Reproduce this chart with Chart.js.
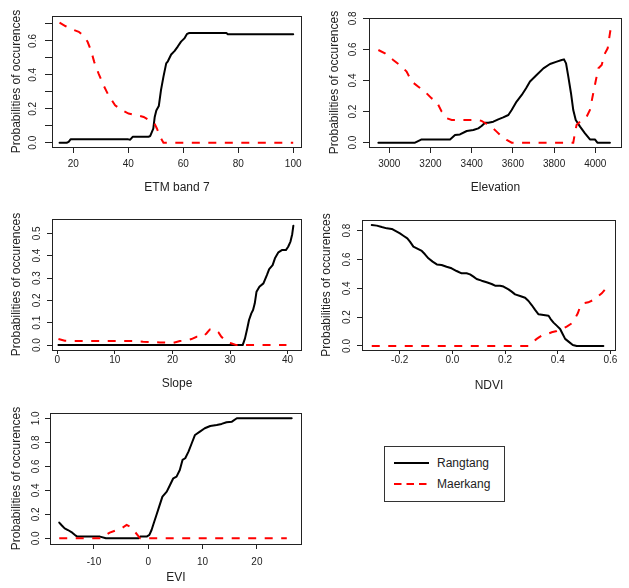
<!DOCTYPE html>
<html><head><meta charset="utf-8">
<script src="https://cdn.jsdelivr.net/npm/chart.js@4.4.1/dist/chart.umd.min.js"></script>
<style>
html,body{margin:0;padding:0;background:#fff;}
body{width:629px;height:588px;position:relative;overflow:hidden;font-family:"Liberation Sans",Arial,Helvetica,sans-serif;}
canvas.panel{position:absolute;}
#legend{position:absolute;left:384px;top:446px;width:121px;height:56px;border:1px solid #333;box-sizing:border-box;}
#legend .row{position:absolute;left:9px;height:20px;display:flex;align-items:center;font-size:12px;color:#222;}
#legend svg{display:block;margin-right:8px;}
</style></head><body>
<canvas class="panel" id="c1"></canvas>
<canvas class="panel" id="c2"></canvas>
<canvas class="panel" id="c3"></canvas>
<canvas class="panel" id="c4"></canvas>
<canvas class="panel" id="c5"></canvas>
<div id="legend">
  <div class="row" style="top:6px"><svg width="35" height="4"><line x1="0" y1="2" x2="35" y2="2" stroke="#000" stroke-width="2"/></svg><span>Rangtang</span></div>
  <div class="row" style="top:27px"><svg width="35" height="4"><line x1="0" y1="2" x2="35" y2="2" stroke="#ff0000" stroke-width="2" stroke-dasharray="7.5 5"/></svg><span>Maerkang</span></div>
</div>
<script>
// ---------- series names ----------
const seriesNames = ['Rangtang', 'Maerkang'];
const axisTitleY = 'Probabilities of occurences';

// ---------- ETM band 7 ----------
const etmRangtang = [[15,0],[17.6,0],[18.3,0.005],[19,0.02],[40,0.02],[40.7,0.018],[41.6,0.035],[47.3,0.035],[48,0.04],[49.1,0.084],[49.6,0.15],[50.2,0.19],[51.1,0.216],[51.9,0.31],[52.8,0.39],[53.8,0.468],[54.4,0.48],[55.6,0.52],[56.8,0.54],[58,0.567],[59.2,0.596],[60.4,0.615],[61.4,0.642],[62.2,0.647],[75.7,0.647],[76.2,0.64],[100,0.64]];
const etmMaerkang = [[15,0.708],[17.1,0.688],[19.6,0.668],[22,0.654],[23.8,0.629],[25.2,0.595],[26.4,0.546],[27.6,0.477],[29.2,0.408],[31,0.339],[32.8,0.28],[35.2,0.221],[37.7,0.192],[40.1,0.172],[43.1,0.162],[45.6,0.152],[48.6,0.123],[49.5,0.115],[50.4,0.084],[51.6,0.035],[52.8,0],[100,0]];
const etmXTicks = [20,40,60,80,100];
const etmYTicks = [0,0.1,0.2,0.3,0.4,0.5,0.6,0.7];
const etmYLabels = [0,0.2,0.4,0.6];

// ---------- Elevation ----------
const elevRangtang = [[2947,0],[3125,0],[3157,0.021],[3295,0.021],[3319,0.049],[3343,0.053],[3376,0.075],[3408,0.081],[3432,0.092],[3448,0.107],[3465,0.128],[3481,0.128],[3505,0.135],[3529,0.15],[3553,0.163],[3578,0.178],[3594,0.21],[3618,0.264],[3643,0.307],[3664,0.35],[3683,0.393],[3715,0.435],[3748,0.478],[3780,0.506],[3813,0.521],[3837,0.532],[3848,0.536],[3858,0.51],[3869,0.425],[3882,0.318],[3893,0.21],[3905,0.146],[3926,0.103],[3950,0.06],[3974,0.021],[3998,0.021],[4010,0],[4071,0]];
const elevMaerkang = [[2947,0.596],[2979,0.575],[3019,0.532],[3060,0.49],[3084,0.457],[3109,0.393],[3141,0.36],[3173,0.328],[3206,0.285],[3230,0.264],[3254,0.2],[3279,0.157],[3303,0.146],[3424,0.146],[3448,0.14],[3473,0.12],[3497,0.1],[3521,0.071],[3546,0.039],[3570,0.017],[3594,0],[3893,0],[3901,0.06],[3909,0.114],[3934,0.146],[3958,0.167],[3974,0.21],[3990,0.318],[4003,0.403],[4015,0.478],[4031,0.5],[4047,0.575],[4060,0.607],[4071,0.703],[4079,0.767]];
const elevXTicks = [3000,3200,3400,3600,3800,4000];
const elevYTicks = [0,0.2,0.4,0.6,0.8];
const elevYLabels = [0,0.2,0.4,0.6,0.8];

// ---------- Slope ----------
const slopeRangtang = [[0.2,0],[32.2,0],[32.6,0.03],[33,0.075],[33.3,0.112],[33.7,0.142],[34,0.157],[34.3,0.187],[34.6,0.239],[35.1,0.261],[35.8,0.276],[36.4,0.313],[36.8,0.34],[37.4,0.358],[37.8,0.388],[38.4,0.415],[39,0.425],[39.7,0.425],[40.1,0.44],[40.5,0.463],[40.8,0.496],[41,0.534]];
const slopeMaerkang = [[0.2,0.027],[1.3,0.019],[2.8,0.018],[13.2,0.018],[14.9,0.015],[17.8,0.012],[20.1,0.01],[21.3,0.018],[22.5,0.022],[23.3,0.027],[24.2,0.037],[25.3,0.037],[25.9,0.052],[26.5,0.07],[27.4,0.07],[28,0.057],[28.5,0.037],[29.4,0.015],[30.3,0.007],[31.1,0],[39.8,0]];
const slopeXTicks = [0,10,20,30,40];
const slopeYTicks = [0,0.1,0.2,0.3,0.4,0.5];
const slopeYLabels = [0,0.1,0.2,0.3,0.4,0.5];

// ---------- NDVI ----------
const ndviRangtang = [[-0.306,0.839],[-0.287,0.835],[-0.268,0.825],[-0.249,0.816],[-0.23,0.812],[-0.211,0.793],[-0.199,0.781],[-0.186,0.765],[-0.171,0.747],[-0.161,0.724],[-0.148,0.689],[-0.135,0.677],[-0.116,0.659],[-0.104,0.636],[-0.091,0.608],[-0.075,0.585],[-0.059,0.566],[-0.041,0.562],[-0.022,0.55],[-0.003,0.539],[0.016,0.52],[0.035,0.504],[0.054,0.504],[0.067,0.497],[0.08,0.481],[0.092,0.465],[0.111,0.453],[0.13,0.442],[0.149,0.43],[0.162,0.418],[0.181,0.418],[0.194,0.412],[0.213,0.393],[0.225,0.377],[0.238,0.358],[0.257,0.347],[0.276,0.335],[0.289,0.312],[0.301,0.284],[0.314,0.25],[0.327,0.22],[0.346,0.215],[0.365,0.21],[0.373,0.187],[0.384,0.162],[0.396,0.141],[0.409,0.118],[0.419,0.081],[0.428,0.049],[0.441,0.03],[0.457,0.007],[0.472,0],[0.573,0]];
const ndviMaerkang = [[-0.306,0],[0.289,0],[0.301,0.018],[0.32,0.049],[0.339,0.072],[0.358,0.081],[0.377,0.095],[0.396,0.104],[0.415,0.118],[0.434,0.134],[0.453,0.157],[0.466,0.192],[0.476,0.227],[0.485,0.273],[0.497,0.296],[0.516,0.303],[0.535,0.319],[0.551,0.342],[0.567,0.365],[0.58,0.393]];
const ndviXTicks = [-0.2,0,0.2,0.4,0.6];
const ndviYTicks = [0,0.2,0.4,0.6,0.8];
const ndviYLabels = [0,0.2,0.4,0.6,0.8];

// ---------- EVI ----------
const eviRangtang = [[-16.4,0.131],[-16,0.111],[-15.4,0.083],[-14.8,0.069],[-14,0.047],[-13.5,0.028],[-13.1,0.014],[-8.9,0.014],[-7.8,0],[-1.8,0],[-1.5,0.014],[-0.3,0.014],[0.2,0.028],[0.6,0.069],[1,0.125],[1.5,0.194],[2,0.264],[2.6,0.347],[3.4,0.389],[4,0.444],[4.6,0.5],[5.2,0.514],[5.8,0.569],[6.3,0.653],[6.8,0.667],[7.4,0.722],[8,0.792],[8.6,0.861],[9.5,0.889],[10.4,0.917],[11.4,0.936],[12.6,0.944],[13.5,0.953],[14.4,0.967],[15.4,0.972],[16.3,1],[26.4,1]];
const eviMaerkang = [[-16.4,0],[-8.9,0],[-8.3,0.014],[-7.1,0.047],[-6.1,0.064],[-5.2,0.075],[-4,0.111],[-3.4,0.097],[-2.5,0.056],[-1.5,0],[25.5,0]];
const eviXTicks = [-10,0,10,20];
const eviYTicks = [0,0.2,0.4,0.6,0.8,1.0];
const eviYLabels = [0,0.2,0.4,0.6,0.8,1.0];

// ---------- layout (positions / styles only) ----------
const FONT = '"Liberation Sans", Arial, Helvetica, sans-serif';
const panels = [
  {id:'c1', L:52, T:16, R:302, B:147, x:[12.25,103.2], y:[-0.025,0.747], title:'ETM band 7',
   rang:etmRangtang, maer:etmMaerkang, xt:etmXTicks, yt:etmYTicks, yl:etmYLabels, xdec:0,
   yTick:7, yLab:18.5, yTitle:9.8, xTick:6, xPad:5.5, xTitle:0},
  {id:'c2', L:369, T:18, R:622, B:147, x:[2901.5,4129.6], y:[-0.028,0.802], title:'Elevation',
   rang:elevRangtang, maer:elevMaerkang, xt:elevXTicks, yt:elevYTicks, yl:elevYLabels, xdec:0,
   yTick:6, yLab:15.5, yTitle:10.8, xTick:6, xPad:5.5, xTitle:0},
  {id:'c3', L:52, T:219, R:302, B:350, x:[-0.92,42.5], y:[-0.022,0.564], title:'Slope',
   rang:slopeRangtang, maer:slopeMaerkang, xt:slopeXTicks, yt:slopeYTicks, yl:slopeYLabels, xdec:0,
   yTick:5, yLab:14.8, yTitle:9.5, xTick:4, xPad:0, xTitle:6.8},
  {id:'c4', L:362, T:220, R:616, B:350, x:[-0.343,0.621], y:[-0.028,0.874], title:'NDVI',
   rang:ndviRangtang, maer:ndviMaerkang, xt:ndviXTicks, yt:ndviYTicks, yl:ndviYLabels, xdec:1,
   yTick:5, yLab:14.8, yTitle:9.5, xTick:4, xPad:0, xTitle:4.8},
  {id:'c5', L:50, T:413, R:302, B:544, x:[-18.1,28.3], y:[-0.0475,1.044], title:'EVI',
   rang:eviRangtang, maer:eviMaerkang, xt:eviXTicks, yt:eviYTicks, yl:eviYLabels, xdec:0,
   yTick:5, yLab:13.5, yTitle:11.5, xTick:5, xPad:7.5, xTitle:7.1}
];

const frameAndYLabels = {
  id: 'frameAndYLabels',
  afterDraw(chart, args, opts) {
    const ctx = chart.ctx, a = chart.chartArea;
    ctx.save();
    ctx.strokeStyle = '#222';
    ctx.lineWidth = 1;
    ctx.strokeRect(Math.round(a.left) + 0.5, Math.round(a.top) + 0.5,
                   Math.round(a.right - a.left) - 1, Math.round(a.bottom - a.top));
    ctx.fillStyle = '#222';
    ctx.font = '10px ' + FONT;
    ctx.textAlign = 'center';
    ctx.textBaseline = 'middle';
    const ys = chart.scales.y;
    for (const v of opts.labels) {
      const py = ys.getPixelForValue(v);
      ctx.save();
      ctx.translate(a.left - opts.offset, py);
      ctx.rotate(-Math.PI / 2);
      ctx.fillText(v.toFixed(1), 0, 0);
      ctx.restore();
    }
    ctx.restore();
  }
};

const toXY = arr => arr.map(p => ({x: p[0], y: p[1]}));

for (const p of panels) {
  const cv = document.getElementById(p.id);
  const W = (p.R - p.L) + 52 + 10;
  const H = (p.B - p.T) + 16 + 48;
  cv.width = W; cv.height = H;
  cv.style.width = W + 'px'; cv.style.height = H + 'px';
  cv.style.left = (p.L - 52) + 'px';
  cv.style.top = (p.T - 16) + 'px';

  new Chart(cv, {
    type: 'line',
    data: {
      datasets: [
        {label: seriesNames[1], data: toXY(p.maer), borderColor: '#ff0000', borderWidth: 2,
         borderDash: [8, 8.5], borderCapStyle: 'butt', pointRadius: 0, tension: 0, order: 0},
        {label: seriesNames[0], data: toXY(p.rang), borderColor: '#000000', borderWidth: 2,
         borderCapStyle: 'round', borderJoinStyle: 'round', pointRadius: 0, tension: 0, order: 1}
      ]
    },
    options: {
      responsive: false,
      devicePixelRatio: 1,
      animation: false,
      events: [],
      layout: {padding: {left: 0, top: 16, right: 10, bottom: 0}},
      plugins: {
        legend: {display: false},
        tooltip: {enabled: false},
        frameAndYLabels: {labels: p.yl, offset: p.yLab}
      },
      scales: {
        x: {
          type: 'linear', min: p.x[0], max: p.x[1],
          afterBuildTicks: s => { s.ticks = p.xt.map(v => ({value: v})); },
          afterFit: s => { s.height = 48; },
          grid: {drawOnChartArea: false, drawTicks: true, tickLength: p.xTick, color: '#222', lineWidth: 1},
          border: {display: false},
          ticks: {autoSkip: false, maxRotation: 0, minRotation: 0, padding: p.xPad, color: '#222',
                  font: {family: FONT, size: 10},
                  callback: v => p.xdec ? Number(v).toFixed(p.xdec) : String(v)},
          title: {display: true, text: p.title, color: '#222', font: {family: FONT, size: 12},
                  padding: {top: 0, bottom: p.xTitle}}
        },
        y: {
          type: 'linear', min: p.y[0], max: p.y[1],
          afterBuildTicks: s => { s.ticks = p.yt.map(v => ({value: v})); },
          afterFit: s => { s.width = 52; },
          grid: {drawOnChartArea: false, drawTicks: true, tickLength: p.yTick, color: '#222', lineWidth: 1},
          border: {display: false},
          ticks: {display: false},
          title: {display: true, text: axisTitleY, color: '#222', font: {family: FONT, size: 12},
                  padding: {top: p.yTitle, bottom: 0}}
        }
      }
    },
    plugins: [frameAndYLabels]
  });
}
</script>
</body></html>
